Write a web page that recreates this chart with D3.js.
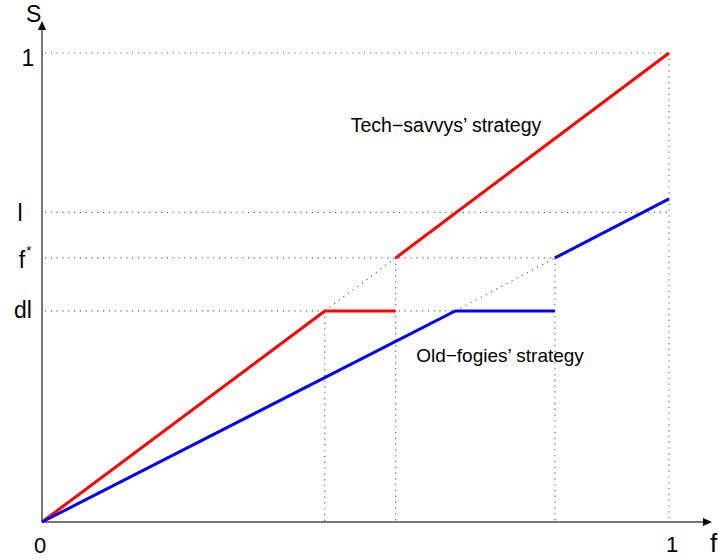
<!DOCTYPE html>
<html>
<head>
<meta charset="utf-8">
<script src="https://cdn.jsdelivr.net/npm/d3@7"></script>
<style>
  body { margin: 0; background: #fff; }
  text { font-family: "Liberation Sans", Arial, sans-serif; fill: #000; }
</style>
</head>
<body>
<div id="chart"></div>
<script>
// levels on the s axis
var levelNames = ["1", "l", "f*", "dl"];
var levelValues = [1, 0.66, 0.563, 0.45];

// strategies (f, s)
var techPart1 = [[0, 0], [0.451, 0.45], [0.564, 0.45]];
var techPart2 = [[0.564, 0.563], [1, 1]];
var oldPart1 = [[0, 0], [0.659, 0.45], [0.818, 0.45]];
var oldPart2 = [[0.818, 0.563], [1, 0.689]];

// dotted guides
var vGuides = [[0.451, 0.45], [0.564, 0.563], [0.818, 0.563], [1, 1]];
var hGuides = [[1, 1], [1, 0.66], [0.818, 0.563], [0.818, 0.45]];
var diagGuides = [
  [[0.451, 0.45], [0.564, 0.563]],
  [[0.659, 0.45], [0.818, 0.563]]
];

var svgWidth = 719, svgHeight = 560;

var svg = d3.select("#chart")
  .append("svg")
  .attr("width", svgWidth)
  .attr("height", svgHeight);

var x = d3.scaleLinear().domain([0, 1]).range([42, 669]);
var y = d3.scaleLinear().domain([0, 1]).range([522, 53]);

var line = d3.line()
  .x(d => x(d[0]))
  .y(d => y(d[1]));

var dotStyle = function(sel) {
  sel.attr("stroke", "#666")
    .attr("stroke-width", 1.2)
    .attr("stroke-dasharray", "1.2,4.6")
    .attr("fill", "none");
};

// horizontal guides
svg.selectAll(".hguide")
  .data(hGuides)
  .enter()
  .append("line")
  .attr("x1", x(0) + 3)
  .attr("x2", d => x(d[0]))
  .attr("y1", d => y(d[1]))
  .attr("y2", d => y(d[1]))
  .call(dotStyle);

// vertical guides
svg.selectAll(".vguide")
  .data(vGuides)
  .enter()
  .append("line")
  .attr("x1", d => x(d[0]))
  .attr("x2", d => x(d[0]))
  .attr("y1", d => y(d[1]))
  .attr("y2", y(0))
  .call(dotStyle);

// diagonal guides
svg.selectAll(".dguide")
  .data(diagGuides)
  .enter()
  .append("path")
  .attr("d", line)
  .call(dotStyle);

// axes
svg.append("line")
  .attr("x1", x(0)).attr("y1", y(0))
  .attr("x2", 704).attr("y2", y(0))
  .attr("stroke", "#777").attr("stroke-width", 2);
svg.append("line")
  .attr("x1", x(0)).attr("y1", y(0))
  .attr("x2", x(0)).attr("y2", 28)
  .attr("stroke", "#777").attr("stroke-width", 2);

// arrowheads
svg.append("path")
  .attr("d", `M${x(0)},21 L${x(0) - 4},30 L${x(0) + 4},30 Z`)
  .attr("fill", "#000");
svg.append("path")
  .attr("d", `M712,${y(0)} L703,${y(0) - 4} L703,${y(0) + 4} Z`)
  .attr("fill", "#000");

// strategy lines
[[techPart1, "#ff0000"], [techPart2, "#ff0000"], [oldPart1, "#0000ff"], [oldPart2, "#0000ff"]]
  .forEach(function(s) {
    svg.append("path")
      .datum(s[0])
      .attr("d", line)
      .attr("fill", "none")
      .attr("stroke", s[1])
      .attr("stroke-width", 3);
  });

// level labels (small hand offsets so they sit like the original)
var labelDy = [13, 9, 10, 7];
var labelX = [28, 20, 25, 23];
var lab = svg.selectAll(".lvl")
  .data(levelNames)
  .enter()
  .append("text")
  .attr("x", (d, i) => labelX[i])
  .attr("y", (d, i) => y(levelValues[i]) + labelDy[i])
  .attr("text-anchor", "middle")
  .attr("font-size", "23px");
lab.each(function(d) {
  var t = d3.select(this);
  if (d === "f*") {
    t.append("tspan").text("f");
    t.append("tspan").attr("font-size", "13px").attr("dx", 1).attr("dy", -13).text("*");
  } else {
    t.text(d);
  }
});

// axis labels
svg.append("text").attr("x", 34).attr("y", 553).attr("font-size", "22px").text("0");
svg.append("text").attr("x", 666).attr("y", 552).attr("font-size", "22px").text("1");
svg.append("text").attr("x", 710).attr("y", 552).attr("font-size", "26px").text("f");
svg.append("text").attr("x", 26).attr("y", 22).attr("font-size", "23px").text("S");

// series captions
svg.append("text")
  .attr("x", 446).attr("y", 132)
  .attr("text-anchor", "middle")
  .attr("font-size", "19.5px")
  .text("Tech\u2212savvys\u2019 strategy");
svg.append("text")
  .attr("x", 500).attr("y", 362)
  .attr("text-anchor", "middle")
  .attr("font-size", "19px")
  .text("Old\u2212fogies\u2019 strategy");
</script>
</body>
</html>
